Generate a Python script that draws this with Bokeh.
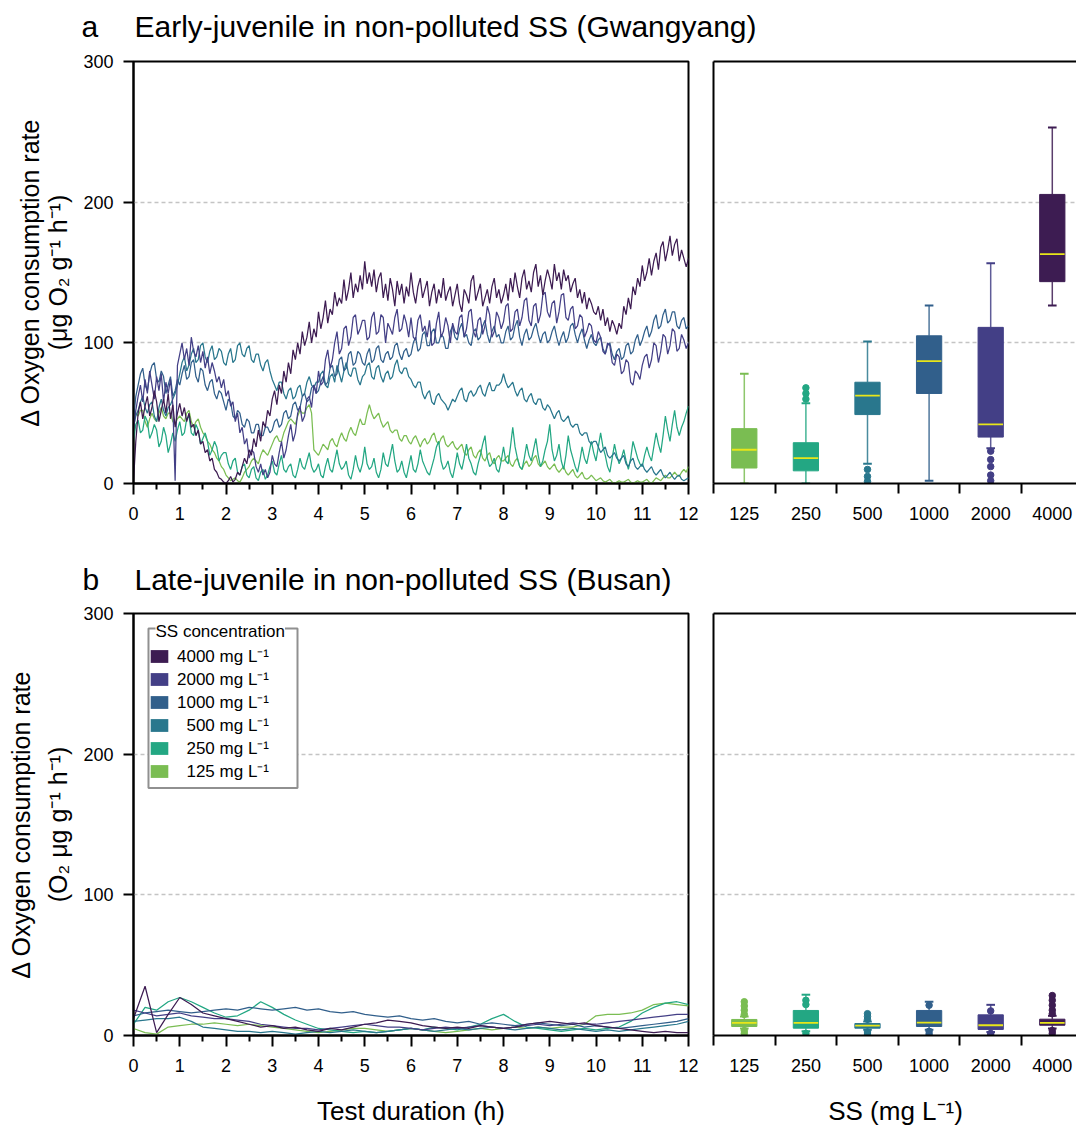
import numpy as np
from bokeh.plotting import figure
from bokeh.models import Range1d, FixedTicker, LinearAxis, Legend, LegendItem, Label, BoxAnnotation
from bokeh.layouts import row, column
from bokeh.embed import file_html
from bokeh.resources import INLINE

FONT = "Liberation Sans"

# ---------------- data ----------------
ss_levels = ["125", "250", "500", "1000", "2000", "4000"]
ss_colors = ["#7abd52", "#23a783", "#29778d", "#315f8b", "#433f86", "#3d1c52"]
legend_labels = ["\u2007125 mg L\u207b\u00b9", "\u2007250 mg L\u207b\u00b9", "\u2007500 mg L\u207b\u00b9",
                 "1000 mg L\u207b\u00b9", "2000 mg L\u207b\u00b9", "4000 mg L\u207b\u00b9"]
y_ticks = [0, 100, 200, 300]
x_ticks = list(range(0, 13))
x_minor_ticks = [i + 0.5 for i in range(12)]

# sampling times (h)
time_a = np.arange(241) * 0.05
time_b = np.arange(49) * 0.25

# panel a: early-juvenile time series (one row per hour, 0.05 h steps)
a_125 = [55, 50, 48, 52, 52, 44, 40, 46, 50, 46, 44, 50, 54, 48, 46, 50, 50, 44, 42, 46,
         48, 46, 44, 50, 52, 44, 40, 44, 46, 40, 36, 34, 30, 28, 24, 22, 18, 16, 12, 10,
         6, 4, 2, 3, 4, 2, 1, 4, 8, 10, 12, 16, 18, 16, 14, 20, 24, 22, 20, 24,
         28, 32, 34, 30, 30, 36, 40, 44, 46, 44, 42, 48, 52, 50, 50, 54, 56, 50, 24, 22,
         20, 24, 28, 26, 24, 30, 32, 28, 26, 32, 36, 32, 30, 36, 40, 36, 34, 40, 46, 42,
         42, 50, 56, 50, 46, 48, 50, 44, 40, 42, 44, 38, 36, 38, 38, 32, 30, 34, 34, 30,
         28, 32, 34, 30, 26, 30, 32, 28, 30, 34, 36, 30, 28, 32, 34, 28, 26, 28, 30, 26,
         24, 26, 28, 22, 20, 24, 26, 20, 18, 22, 24, 18, 16, 20, 22, 16, 14, 18, 20, 16,
         16, 18, 20, 14, 12, 16, 18, 12, 10, 14, 16, 12, 14, 18, 20, 14, 12, 14, 16, 12,
         10, 12, 14, 10, 8, 10, 12, 8, 6, 8, 10, 6, 4, 6, 8, 4, 3, 4, 6, 4,
         2, 3, 4, 2, 1, 2, 3, 1, 0, 1, 2, 1, 1, 2, 3, 1, 0, 1, 2, 1,
         1, 2, 3, 1, 0, 2, 4, 3, 2, 4, 6, 4, 4, 6, 8, 6, 5, 8, 10, 8,
         12]
a_250 = [30, 42, 45, 36, 38, 48, 44, 32, 36, 42, 38, 26, 30, 40, 34, 22, 28, 36, 30, 38,
         44, 34, 36, 46, 48, 36, 34, 42, 38, 28, 32, 36, 30, 20, 24, 30, 26, 16, 20, 22,
         22, 14, 10, 16, 18, 8, 6, 12, 14, 6, 4, 10, 12, 4, 2, 8, 10, 3, 6, 12,
         16, 8, 6, 14, 20, 10, 8, 12, 14, 6, 4, 10, 18, 12, 10, 16, 22, 12, 8, 10,
         14, 6, 4, 12, 18, 10, 8, 16, 24, 14, 10, 12, 16, 6, 3, 10, 20, 12, 8, 14,
         26, 14, 10, 12, 18, 8, 4, 10, 22, 14, 12, 20, 28, 16, 8, 10, 16, 8, 4, 12,
         20, 10, 8, 14, 24, 16, 12, 8, 6, 12, 18, 26, 30, 16, 10, 12, 16, 8, 4, 12,
         22, 14, 10, 18, 28, 18, 14, 8, 6, 14, 20, 28, 34, 18, 12, 14, 18, 10, 8, 16,
         26, 16, 14, 26, 40, 26, 18, 12, 10, 18, 28, 20, 16, 24, 32, 20, 12, 16, 24, 30,
         42, 24, 16, 20, 28, 16, 10, 20, 34, 24, 18, 12, 8, 16, 26, 18, 14, 22, 30, 22,
         16, 26, 36, 26, 20, 12, 8, 18, 28, 20, 14, 18, 24, 16, 10, 18, 30, 24, 18, 14,
         12, 20, 26, 20, 16, 26, 36, 28, 22, 34, 48, 38, 30, 42, 52, 40, 34, 40, 44, 50,
         55]
a_500 = [40, 48, 52, 58, 62, 54, 50, 56, 58, 48, 44, 54, 60, 52, 48, 54, 56, 60, 64, 70,
         78, 86, 90, 80, 84, 92, 96, 86, 88, 98, 100, 90, 86, 94, 98, 88, 90, 96, 94, 86,
         84, 92, 96, 86, 88, 98, 100, 92, 90, 96, 98, 88, 86, 92, 92, 84, 80, 86, 88, 80,
         74, 70, 66, 72, 72, 64, 60, 66, 68, 60, 62, 68, 70, 62, 64, 72, 76, 70, 68, 72,
         72, 78, 80, 70, 68, 76, 78, 72, 84, 78, 72, 80, 86, 78, 76, 82, 82, 74, 70, 76,
         78, 84, 86, 76, 74, 82, 84, 76, 72, 78, 80, 74, 76, 84, 88, 80, 78, 82, 82, 76,
         74, 70, 68, 72, 72, 64, 60, 64, 66, 58, 56, 62, 64, 60, 58, 56, 52, 56, 60, 58,
         62, 66, 68, 60, 58, 64, 66, 62, 64, 68, 70, 64, 62, 68, 72, 66, 66, 70, 70, 72,
         78, 72, 68, 70, 72, 66, 62, 66, 68, 60, 58, 62, 64, 58, 56, 60, 60, 54, 52, 56,
         54, 50, 46, 50, 52, 46, 44, 46, 48, 42, 40, 42, 42, 36, 34, 36, 36, 30, 28, 30,
         30, 26, 22, 24, 26, 20, 18, 20, 22, 18, 16, 18, 20, 14, 12, 16, 18, 12, 10, 12,
         14, 10, 8, 10, 12, 8, 6, 8, 10, 6, 4, 6, 8, 5, 3, 5, 6, 3, 2, 3,
         4]
a_1000 = [45, 62, 70, 78, 82, 70, 66, 78, 84, 86, 74, 72, 80, 76, 64, 70, 76, 62, 66, 74,
          70, 78, 84, 74, 76, 86, 88, 76, 72, 82, 80, 70, 66, 72, 74, 64, 60, 66, 64, 58,
          52, 60, 58, 48, 46, 52, 50, 42, 40, 46, 44, 36, 36, 42, 42, 34, 34, 40, 40, 36,
          38, 44, 46, 40, 42, 50, 52, 46, 48, 56, 58, 52, 54, 62, 64, 58, 60, 68, 70, 64,
          66, 72, 76, 70, 72, 82, 84, 76, 78, 88, 90, 80, 82, 92, 94, 84, 86, 94, 92, 86,
          84, 92, 96, 86, 88, 96, 98, 88, 86, 92, 94, 88, 90, 98, 100, 92, 88, 94, 96, 90,
          92, 100, 104, 94, 96, 106, 108, 98, 98, 108, 110, 100, 100, 106, 104, 96, 96, 108, 112, 104,
          102, 110, 114, 104, 106, 100, 98, 108, 110, 102, 104, 112, 116, 106, 100, 108, 112, 104, 106, 100,
          100, 108, 112, 102, 104, 112, 116, 104, 98, 106, 110, 102, 104, 110, 114, 106, 100, 106, 108, 100,
          102, 108, 112, 104, 98, 104, 108, 100, 104, 112, 114, 106, 100, 106, 110, 102, 96, 102, 106, 100,
          98, 102, 104, 96, 92, 98, 100, 92, 88, 94, 96, 88, 90, 98, 100, 92, 94, 102, 106, 98,
          102, 108, 112, 104, 108, 116, 120, 110, 112, 120, 124, 114, 116, 122, 122, 112, 110, 116, 118, 110,
          112]
a_2000 = [38, 52, 62, 70, 58, 74, 64, 80, 70, 60, 76, 66, 78, 58, 72, 64, 74, 56, 2, 84,
          92, 100, 88, 96, 84, 104, 94, 90, 98, 86, 94, 82, 90, 78, 86, 80, 72, 76, 68, 74,
          62, 66, 55, 58, 44, 50, 36, 40, 28, 32, 18, 24, 22, 12, 8, 14, 6, 10, 4, 8,
          20, 14, 12, 22, 30, 18, 24, 34, 42, 30, 36, 50, 55, 44, 48, 60, 62, 54, 70, 64,
          80, 70, 72, 88, 95, 82, 88, 100, 108, 92, 96, 110, 112, 98, 104, 118, 120, 106, 110, 116,
          116, 102, 104, 118, 122, 106, 108, 120, 118, 100, 114, 110, 106, 118, 124, 108, 110, 120, 114, 104,
          118, 104, 102, 116, 120, 108, 112, 104, 116, 98, 100, 114, 122, 104, 108, 118, 112, 100, 114, 108,
          106, 118, 120, 104, 110, 122, 124, 108, 104, 116, 118, 106, 112, 126, 120, 104, 108, 122, 118, 110,
          115, 126, 128, 108, 110, 122, 124, 112, 118, 130, 132, 116, 112, 126, 128, 114, 120, 134, 136, 122,
          118, 128, 130, 114, 122, 134, 135, 118, 116, 124, 126, 110, 112, 120, 118, 104, 108, 114, 112, 102,
          100, 108, 104, 94, 92, 100, 98, 86, 84, 92, 90, 78, 80, 88, 86, 72, 70, 80, 78, 74,
          84, 90, 92, 82, 88, 100, 98, 86, 94, 106, 104, 92, 98, 110, 108, 94, 96, 106, 102, 96,
          100]
a_4000 = [2, 30, 50, 58, 46, 55, 62, 48, 54, 66, 58, 44, 52, 60, 50, 64, 46, 56, 40, 50,
          57, 48, 54, 44, 50, 40, 42, 34, 38, 28, 30, 22, 24, 16, 18, 10, 8, 4, 3, 1,
          0, 2, 5, 1, 3, 8, 6, 12, 18, 14, 24, 20, 32, 26, 38, 30, 44, 40, 52, 48,
          60, 66, 56, 70, 64, 80, 72, 86, 78, 95, 88, 100, 92, 108, 98, 104, 115, 100, 110, 104,
          122, 110, 118, 130, 114, 124, 120, 136, 126, 132, 128, 145, 130, 138, 150, 132, 142, 136, 148, 138,
          158, 142, 150, 140, 152, 136, 146, 150, 132, 142, 130, 146, 138, 126, 144, 134, 142, 128, 140, 133,
          150, 136, 128, 140, 146, 132, 138, 144, 126, 136, 142, 128, 138, 132, 146, 130, 136, 140, 126, 134,
          142, 128, 122, 138, 134, 128, 144, 148, 130, 136, 142, 126, 132, 138, 128, 140, 146, 132, 138, 128,
          134, 142, 130, 146, 136, 150, 140, 132, 146, 152, 138, 144, 136, 150, 156, 140, 148, 134, 144, 152,
          146, 138, 156, 144, 150, 138, 152, 144, 148, 136, 142, 146, 132, 138, 128, 136, 124, 132, 128, 122,
          120, 126, 116, 124, 112, 118, 108, 116, 112, 106, 114, 110, 126, 120, 132, 124, 140, 134, 146, 140,
          155, 144, 150, 160, 148, 158, 164, 152, 168, 172, 158, 166, 176, 162, 170, 174, 158, 166, 160, 154,
          160]

# panel b: late-juvenile time series (0.25 h steps)
b_125 = [5, 2, 1, 6, 7, 8, 8, 9, 8, 7, 8, 7, 6, 5, 4, 3, 2, 3, 4, 5, 5, 4, 3, 4, 5,
         4, 3, 2, 3, 4, 5, 4, 5, 6, 5, 6, 5, 6, 6, 8, 14, 15, 15, 16, 18, 22, 23, 22, 21]
b_250 = [8, 20, 18, 24, 27, 24, 20, 16, 13, 14, 18, 24, 20, 15, 11, 8, 5, 4, 3, 2, 3, 2, 3, 4, 5,
         4, 6, 5, 4, 6, 8, 12, 15, 10, 6, 5, 4, 3, 4, 5, 4, 5, 6, 10, 16, 20, 23, 24, 22]
b_500 = [10, 11, 12, 12, 13, 10, 6, 5, 4, 3, 3, 2, 3, 2, 1, 2, 3, 2, 3, 4, 3, 2, 3, 4, 5,
         4, 3, 4, 5, 4, 5, 6, 5, 4, 5, 6, 5, 4, 5, 4, 3, 4, 3, 4, 5, 6, 7, 8, 10]
b_1000 = [14, 16, 17, 18, 17, 16, 17, 18, 19, 18, 20, 19, 18, 19, 20, 18, 19, 17, 16, 17, 15, 14, 13, 14, 12,
          11, 12, 10, 9, 10, 8, 9, 8, 7, 8, 9, 8, 7, 8, 6, 7, 6, 5, 6, 7, 8, 9, 10, 12]
b_2000 = [18, 16, 14, 15, 16, 14, 13, 12, 12, 11, 10, 8, 7, 6, 5, 5, 4, 5, 6, 7, 8, 7, 6, 6, 5,
          4, 5, 6, 5, 6, 7, 6, 5, 6, 7, 8, 7, 8, 9, 8, 8, 9, 10, 11, 12, 13, 14, 15, 15]
b_4000 = [12, 35, 2, 15, 27, 22, 16, 14, 12, 10, 8, 6, 7, 5, 6, 4, 3, 5, 4, 6, 8, 9, 11, 10, 9,
          7, 6, 5, 6, 5, 7, 6, 5, 6, 8, 9, 10, 9, 8, 9, 7, 6, 5, 4, 3, 2, 3, 2, 2]

# box-plot statistics (order follows ss_levels)
a_q1 = [11, 9, 49, 64, 33, 143.5]
a_median = [24, 18, 62.5, 87, 42, 163]
a_q3 = [39, 29, 72, 105, 111, 205.5]
a_low = [0, 0, 14, 2, 25, 126.5]
a_high = [78, 57, 101, 126.5, 156.5, 253]
a_outliers = [[], [60, 64, 68], [10, 5, 1.5], [], [23, 17, 12, 6, 2], []]

b_q1 = [6.4, 5.2, 5.2, 6.4, 4.3, 7.3]
b_median = [9, 9, 7, 9.2, 7.3, 9]
b_q3 = [11.4, 17.8, 8.5, 17.8, 14.7, 11.6]
b_low = [5, 3, 4, 4, 2.5, 5]
b_high = [13.5, 29, 10, 24, 21.8, 14]
b_outliers = [[15, 18, 21, 24, 3.5, 1.5], [25, 22, 1.5], [11.5, 13.5, 15.5, 2.5, 1],
              [21.5, 3, 1], [17.5, 1.5, 0.3], [28.4, 25, 21.5, 18, 15.5, 3.5, 1.5]]

MEDIAN_COLOR = "#e8e619"
GRID_COLOR = "#c4c4c4"
W_TOTAL = 1076
TOP_B = 12


def style_common(p):
    p.background_fill_color = "white"
    p.border_fill_color = "white"
    p.xgrid.grid_line_color = None
    g = p.ygrid[0]
    g.ticker = FixedTicker(ticks=[100, 200])
    g.grid_line_color = GRID_COLOR
    g.grid_line_dash = "4 3"
    g.grid_line_width = 1.5


def text_strip(height, items):
    """A blank strip (no axes) whose data units equal pixels; holds free text."""
    p = figure(width=W_TOTAL, height=height, x_range=Range1d(0, W_TOTAL), y_range=Range1d(0, height),
               min_border=0, x_axis_location=None, y_axis_location=None,
               output_backend="svg", toolbar_location=None, title=None)
    p.grid.visible = False
    p.outline_line_color = None
    p.background_fill_color = "white"
    p.border_fill_color = "white"
    for x, y, txt, size, align in items:
        p.add_layout(Label(x=x, y=y, text=txt, text_font=FONT, text_font_size=size,
                           text_align=align, text_baseline="alphabetic", text_color="black"))
    return p


def line_panel(series, times, height, bottom_b, ylabel, ylabel_lh, legend=False):
    p = figure(width=699, height=height, x_range=Range1d(0, 12), y_range=Range1d(0, 300),
               min_border_left=133, min_border_right=11, min_border_top=TOP_B, min_border_bottom=bottom_b,
               output_backend="svg", toolbar_location=None, title=None)
    style_common(p)
    p.outline_line_color = "black"
    p.outline_line_width = 2
    for vals, col in zip(series, ss_colors):
        p.line(times, vals, line_color=col, line_width=1.25)

    xa = p.below[0]
    xa.ticker = FixedTicker(ticks=x_ticks, minor_ticks=x_minor_ticks)
    xa.major_tick_out = 11
    xa.major_tick_in = 0
    xa.minor_tick_out = 6
    xa.minor_tick_in = 0
    ya = p.left[0]
    ya.ticker = FixedTicker(ticks=y_ticks, minor_ticks=[])
    ya.major_tick_out = 10
    ya.major_tick_in = 0
    ya.minor_tick_line_color = None
    for ax in (xa, ya):
        ax.axis_line_width = 2
        ax.major_tick_line_width = 2
        ax.minor_tick_line_width = 2
        ax.major_label_text_font = FONT
        ax.major_label_text_font_size = "18px"
        ax.major_label_text_color = "black"
        ax.axis_label_text_font = FONT
        ax.axis_label_text_font_style = "normal"
        ax.axis_label_text_color = "black"
    xa.major_label_standoff = 12
    ya.major_label_standoff = 10

    ya.axis_label = ylabel
    ya.axis_label_text_font_size = "25px"
    ya.axis_label_standoff = 8
    ya.axis_label_text_line_height = ylabel_lh

    if legend:
        # white legend frame with a grey border (legend box itself is transparent)
        p.add_layout(BoxAnnotation(left=0.324, right=3.546, top=289.3, bottom=176.0,
                                   fill_color="white", fill_alpha=1.0,
                                   line_color="#909090", line_width=2, line_alpha=1.0))
        items = []
        for lab, col in list(zip(legend_labels, ss_colors))[::-1]:
            r = p.quad(left=[np.nan], right=[np.nan], top=[np.nan], bottom=[np.nan],
                       fill_color=col, line_color=None)
            items.append(LegendItem(label=lab, renderers=[r]))
        lg = Legend(items=items, location="top_left", title="\u2007",
                    title_text_font=FONT, title_text_font_size="14px", title_standoff=0,
                    label_text_font=FONT, label_text_font_size="17px", label_text_color="black",
                    border_line_color=None, background_fill_alpha=0.0,
                    glyph_width=22, glyph_height=16, label_height=18, label_standoff=7,
                    spacing=-3, padding=11, margin=15)
        p.add_layout(lg)
        # legend heading sits on the legend frame's top border, as in the reference
        p.add_layout(Label(x=0.476, y=287.2, text="SS concentration", text_font=FONT,
                           text_font_size="17px", text_baseline="middle", text_align="left",
                           text_color="black", background_fill_color="white",
                           background_fill_alpha=1.0))
    return p


X_END = 5.893


def box_panel(q1, med, q3, lo, hi, outs, height, bottom_b):
    p = figure(width=W_TOTAL - 699, height=height, x_range=Range1d(0, X_END), y_range=Range1d(0, 300),
               min_border_left=14, min_border_right=0, min_border_top=TOP_B, min_border_bottom=bottom_b,
               output_backend="svg", toolbar_location=None, title=None)
    style_common(p)
    p.outline_line_color = None
    xs = np.arange(len(ss_levels)) + 0.5
    q1 = np.array(q1, dtype=float)
    q3 = np.array(q3, dtype=float)
    lo = np.array(lo, dtype=float)
    hi = np.array(hi, dtype=float)
    med = np.array(med, dtype=float)

    p.segment(x0=xs, y0=q3, x1=xs, y1=hi, line_color=ss_colors, line_width=1.5, line_alpha=0.85)
    p.segment(x0=xs, y0=q1, x1=xs, y1=lo, line_color=ss_colors, line_width=1.5, line_alpha=0.85)
    p.segment(x0=xs - 0.07, y0=hi, x1=xs + 0.07, y1=hi, line_color=ss_colors, line_width=2)
    p.segment(x0=xs - 0.07, y0=lo, x1=xs + 0.07, y1=lo, line_color=ss_colors, line_width=2)
    p.vbar(x=xs, width=0.41, bottom=q1, top=q3, fill_color=ss_colors, line_color=ss_colors,
           line_width=1)
    p.segment(x0=xs - 0.2, y0=med, x1=xs + 0.2, y1=med, line_color=MEDIAN_COLOR, line_width=1.8)
    ox = [xs[i] for i, lst in enumerate(outs) for _ in lst]
    oy = [v for lst in outs for v in lst]
    oc = [ss_colors[i] for i, lst in enumerate(outs) for _ in lst]
    p.scatter(ox, oy, size=6.5, fill_color=oc, line_color=oc)

    ya = p.left[0]
    ya.ticker = FixedTicker(ticks=[], minor_ticks=[])
    ya.major_label_standoff = 0
    ya.major_tick_line_color = None
    ya.minor_tick_line_color = None
    ya.axis_line_width = 2

    xa = p.below[0]
    xa.ticker = FixedTicker(ticks=list(xs), minor_ticks=list(range(len(ss_levels) + 1)))
    xa.major_label_overrides = {float(x): s for x, s in zip(xs, ss_levels)}
    xa.major_tick_line_color = None
    xa.major_tick_out = 11
    xa.minor_tick_out = 10
    xa.minor_tick_in = 0
    xa.minor_tick_line_width = 2
    xa.axis_line_width = 2
    xa.major_label_text_font = FONT
    xa.major_label_text_font_size = "18px"
    xa.major_label_text_color = "black"
    xa.major_label_standoff = 12

    top_ax = LinearAxis(ticker=FixedTicker(ticks=[], minor_ticks=[]), major_label_standoff=0,
                        major_tick_line_color=None, minor_tick_line_color=None, axis_line_width=2)
    p.add_layout(top_ax, "above")
    return p


series_a = [a_125, a_250, a_500, a_1000, a_2000, a_4000]
series_b = [b_125, b_250, b_500, b_1000, b_2000, b_4000]

head_a = text_strip(49, [(81, 23, "a", "30px", "left"),
                         (134, 23, "Early-juvenile in non-polluted SS (Gwangyang)", "30px", "left")])
p1 = line_panel(series_a, time_a, 484, 50,
                "\u0394 Oxygen consumption rate\n(\u03bcg O\u2082 g\u207b\u00b9 h\u207b\u00b9)", 1.02)
p2 = box_panel(a_q1, a_median, a_q3, a_low, a_high, a_outliers, 484, 50)
head_b = text_strip(68, [(82, 22, "b", "30px", "left"),
                         (134, 22, "Late-juvenile in non-polluted SS (Busan)", "30px", "left")])
p3 = line_panel(series_b, time_b, 479, 45,
                "\u0394 Oxygen consumption rate\n(O\u2082 \u03bcg g\u207b\u00b9 h\u207b\u00b9)", 1.35,
                legend=True)
p4 = box_panel(b_q1, b_median, b_q3, b_low, b_high, b_outliers, 479, 45)
foot = text_strip(47, [(410.5, 17, "Test duration (h)", "26px", "center"),
                       (895, 17, "SS (mg L\u207b\u00b9)", "26px", "center")])

layout = column(head_a, row(p1, p2), head_b, row(p3, p4), foot)
open("out.html", "w").write(file_html(layout, INLINE))
